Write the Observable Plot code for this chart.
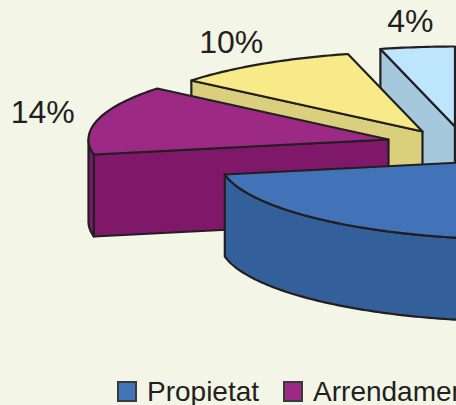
<!DOCTYPE html>
<html>
<head>
<meta charset="utf-8">
<script src="https://cdn.jsdelivr.net/npm/d3@7"></script>
<script src="https://cdn.jsdelivr.net/npm/@observablehq/plot@0.6"></script>
<style>
html,body{margin:0;padding:0;width:456px;height:405px;overflow:hidden;background:#f3f5e6;}
#legend{display:flex;align-items:center;height:27px;white-space:nowrap;font-family:"Liberation Sans",Arial,sans-serif;font-size:28px;color:#231f20;padding-left:117px;}
#legend i{display:inline-block;box-sizing:border-box;width:20px;height:21px;border:2px solid #3a3a3a;margin-right:10px;flex:none;}
#legend span{margin-right:24px;flex:none;}
</style>
</head>
<body>
<div id="chart"></div>
<div id="legend"></div>
<script>
const shares = [72, 14, 10, 4];
const labels = ["72%", "14%", "10%", "4%"];
const topColors = ["#4273b8", "#9c2a84", "#f8ea88", "#bde5fb"];
const sideColors = ["#33609a", "#7f1868", "#d9cf7c", "#a5c8dc"];
const legendNames = ["Propietat", "Arrendament"];

// pie geometry in chart units
const rx = 300, ry = 80, depth = 82;
const apexes = [[519, 159], [388, 139], [422, 131], [454.5, 126]];
const ink = "#231f20";

const total = d3.sum(shares);
let acc = 0;
const slices = shares.map((v, i) => {
  const a0 = acc / total * 2 * Math.PI;
  acc += v;
  const a1 = acc / total * 2 * Math.PI;
  return {i, a0, a1, mid: (a0 + a1) / 2, apex: apexes[i]};
});
const rim = (s, a, dy = 0) => [s.apex[0] + rx * Math.sin(a), s.apex[1] - ry * Math.cos(a) + dy];
const arc = (s, a0, a1, dy = 0) => {
  const n = Math.max(2, Math.ceil((a1 - a0) * 60));
  return d3.range(n + 1).map(k => rim(s, a0 + (a1 - a0) * k / n, dy));
};
const close = pts => [...pts, pts[0]];
const poly = (pts, fill) => Plot.line(close(pts), {x: d => d[0], y: d => d[1], fill, stroke: ink, strokeWidth: 2.2, strokeLinejoin: "round", curve: "linear"});

const marks = [];
[3, 2, 1, 0].forEach(i => {
  const s = slices[i], side = sideColors[i], top = topColors[i];
  const [ax, ay] = s.apex;
  // leading radial wall: the one facing the viewer
  const edge = i === 1 ? s.a0 : i === 0 ? null : s.a0;
  if (edge !== null) {
    marks.push(poly([[ax, ay], rim(s, edge), rim(s, edge, depth), [ax, ay + depth]], side));
  }
  if (i === 3) marks.push(poly([[ax, ay], [ax, ay + depth]], side));
  // outer wall: the front half of the rim only
  const f0 = Math.max(s.a0, Math.PI / 2), f1 = Math.min(s.a1, 1.5 * Math.PI);
  if (f1 > f0) {
    const upper = arc(s, f0, f1), lower = arc(s, f0, f1, depth).reverse();
    marks.push(poly([...upper, ...lower], side));
  }
  marks.push(poly([[ax, ay], ...arc(s, s.a0, s.a1)], top));
});
// purple: start of the slice sits on the blue boundary and its rim wraps left
const labelData = slices.map(s => ({
  text: labels[s.i],
  x: s.apex[0] + 1.19 * rx * Math.sin(s.mid),
  y: s.apex[1] - 1.32 * ry * Math.cos(s.mid)
}));
marks.push(Plot.text(labelData, {x: "x", y: "y", text: "text", fontSize: 32, fontFamily: "Liberation Sans, Arial, sans-serif", fill: ink, textAnchor: "middle", lineAnchor: "middle"}));

const svg = Plot.plot({
  width: 456, height: 378,
  margin: 0,
  x: {domain: [0, 456], range: [0, 456], axis: null},
  y: {domain: [0, 378], range: [0, 378], axis: null},
  style: {background: "#f3f5e6", display: "block"},
  marks
});
document.getElementById("chart").appendChild(svg);

const legend = document.getElementById("legend");
legendNames.forEach((n, i) => {
  const sw = document.createElement("i");
  sw.style.background = topColors[i];
  const t = document.createElement("span");
  t.textContent = n;
  legend.append(sw, t);
});
</script>
</body>
</html>
